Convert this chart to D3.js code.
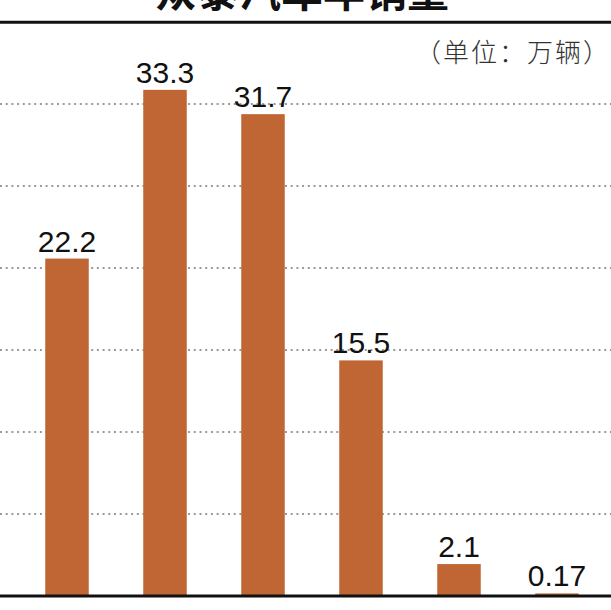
<!DOCTYPE html>
<html>
<head>
<meta charset="utf-8">
<script src="https://cdn.jsdelivr.net/npm/d3@7"></script>
<style>
  html, body { margin: 0; padding: 0; background: #fff; }
  svg { display: block; }
</style>
</head>
<body>
<div id="root"></div>
<script>
// chart data
var years = ["2015", "2016", "2017", "2018", "2019", "2020"];
var sales = [22.2, 33.3, 31.7, 15.5, 2.1, 0.17];
var salesLabels = ["22.2", "33.3", "31.7", "15.5", "2.1", "0.17"];
var gridLevels = [1, 2, 3, 4, 5, 6];

var titleText = "众泰汽车年销量",
    unitText = "（单位：万辆）";

var width = 611,
    height = 610,
    baseY = 596,
    barColor = "#bf6634";

var svg = d3.select("#root").append("svg")
    .attr("width", width)
    .attr("height", height);

// scales
var xScale = d3.scaleBand()
    .domain(years)
    .range([18, 606])
    .paddingInner(0.556)
    .paddingOuter(0.278);

var yScale = d3.scaleLinear()
    .domain([0, 35])
    .range([baseY, baseY - 532]);

// gridlines are evenly spaced, not tied to values
var gridScale = d3.scaleLinear()
    .domain([0, 6])
    .range([baseY, 104]);

// title (cut off at the top in the original)
svg.append("text")
    .attr("x", 302)
    .attr("y", 7)
    .attr("text-anchor", "middle")
    .style("font-family", "'Noto Sans CJK SC', sans-serif")
    .style("font-weight", "bold")
    .style("font-size", "42px")
    .style("fill", "#111")
    .text(titleText);

svg.append("line")
    .attr("x1", 0).attr("x2", width)
    .attr("y1", 22.3).attr("y2", 22.3)
    .style("stroke", "#111")
    .style("stroke-width", 3);

svg.append("text")
    .attr("x", 611)
    .attr("y", 62)
    .attr("text-anchor", "end")
    .style("font-family", "'Noto Sans CJK SC', sans-serif")
    .style("font-weight", 300)
    .style("font-size", "26px")
    .style("letter-spacing", "2px")
    .style("fill", "#333")
    .text(unitText);

// dotted gridlines
svg.append("g").classed("grid", true)
    .selectAll("line")
    .data(gridLevels)
    .enter()
    .append("line")
    .attr("x1", 0)
    .attr("x2", width)
    .attr("y1", function (d) { return gridScale(d); })
    .attr("y2", function (d) { return gridScale(d); })
    .style("stroke", "#9a9a9a")
    .style("stroke-width", 2)
    .style("stroke-dasharray", "2,3.7");

// bars
svg.append("g").classed("bars", true)
    .selectAll("rect")
    .data(sales)
    .enter()
    .append("rect")
    .attr("x", function (d, i) { return xScale(years[i]); })
    .attr("width", xScale.bandwidth())
    .attr("y", function (d) { return yScale(d); })
    .attr("height", function (d) { return baseY - yScale(d); })
    .style("fill", barColor);

// value labels
svg.append("g").classed("labels", true)
    .selectAll("text")
    .data(sales)
    .enter()
    .append("text")
    .attr("x", function (d, i) { return xScale(years[i]) + xScale.bandwidth() / 2; })
    .attr("y", function (d) { return yScale(d) - 7; })
    .attr("text-anchor", "middle")
    .style("font-family", "'Liberation Sans', Arial, sans-serif")
    .style("font-size", "30px")
    .style("fill", "#111")
    .text(function (d, i) { return salesLabels[i]; });

// baseline
svg.append("line")
    .attr("x1", 0).attr("x2", width)
    .attr("y1", baseY).attr("y2", baseY)
    .style("stroke", "#111")
    .style("stroke-width", 3);
</script>
</body>
</html>
